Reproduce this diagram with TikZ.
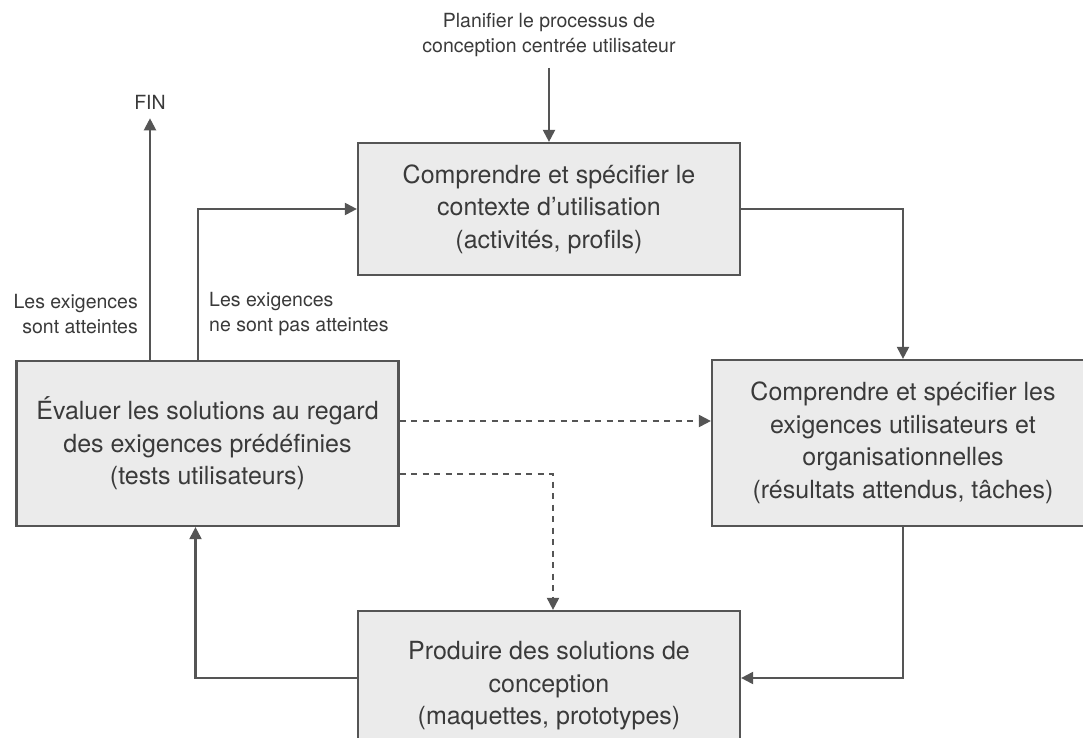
\documentclass[tikz,border=0pt]{standalone}
\usepackage{fontspec}
\setmainfont{TeX Gyre Heros}
\usetikzlibrary{arrows.meta, positioning}

\definecolor{boxfill}{HTML}{EBEBEB}
\definecolor{linegray}{HTML}{555555}
\definecolor{textgray}{HTML}{3A3A3A}

\begin{document}
\begin{tikzpicture}[
    x=1pt, y=1pt,
    every node/.style={text=textgray},
    box/.style={rectangle, draw=linegray, line width=2.2pt, fill=boxfill, minimum width=382pt, align=center, inner sep=0pt, font=\fontsize{25}{32.5}\selectfont},
    note/.style={align=center, inner sep=2pt, font=\fontsize{19.5}{25}\selectfont},
    arrow/.style={-{Triangle[length=12pt, width=12pt]}, line width=2.1pt, draw=linegray},
    dasharrow/.style={arrow, line width=1.9pt, dash pattern=on 6pt off 5.5pt}
]
\useasboundingbox (0,0) rectangle (1083,-738);

% ============ PROCESS BOXES ============
\node[box, minimum height=132pt] (ctx) at (549,-209) {Comprendre et spécifier le\\contexte d’utilisation\\(activités, profils)};
\node[box, minimum height=166pt] (req) at (903,-443) {Comprendre et spécifier les\\exigences utilisateurs et\\organisationnelles\\(résultats attendus, tâches)};
\node[box, minimum height=165pt] (eval) at (207.5,-443.5) {Évaluer les solutions au regard\\des exigences prédéfinies\\(tests utilisateurs)};
\node[box, minimum height=150pt] (prod) at (549,-686) {Produire des solutions de\\conception\\(maquettes, prototypes)};

% ============ NOTES ============
\node[note] (plan) at (549,-35) {Planifier le processus de\\conception centrée utilisateur};
\node[note] (fin) at (150,-102) {FIN};
\node[note, align=right, anchor=east] (met) at (140,-314) {Les exigences\\sont atteintes};
\node[note, align=left, anchor=west] (notmet) at (207,-314) {Les exigences\\ne sont pas atteintes};

% ============ CYCLE ============
\draw[arrow, shorten <=9pt] (plan.south) -- (ctx.north);
\draw[arrow] (ctx.east) -| (req.north);
\draw[arrow] (req.south) |- ([yshift=8pt]prod.east);
\draw[arrow] ([yshift=8pt]prod.west) -| ([xshift=-12pt]eval.south);

% exit or loop back
\draw[arrow, shorten >=7pt] (eval.north -| fin.south) -- (fin.south);
\draw[arrow] ([xshift=-9.5pt]eval.north) |- (ctx.west);

% iterations
\draw[dasharrow] ([yshift=22.5pt]eval.east) -- ([yshift=22.5pt]eval.east -| req.west);
\draw[dasharrow] ([yshift=-30.5pt]eval.east) -| ([xshift=4pt]prod.north);

\end{tikzpicture}
\end{document}
